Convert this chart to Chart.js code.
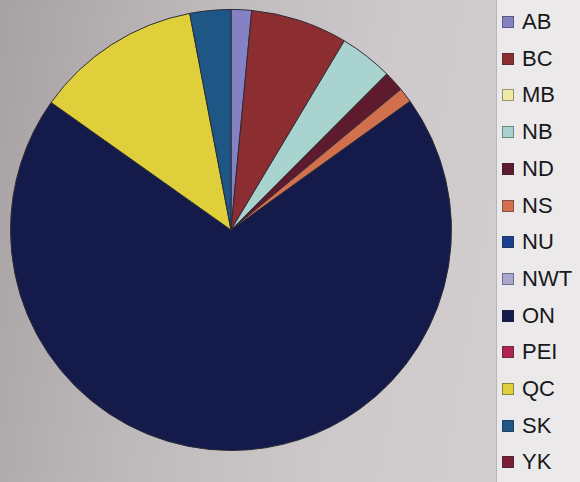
<!DOCTYPE html>
<html>
<head>
<meta charset="utf-8">
<script src="https://cdn.jsdelivr.net/npm/chart.js@4"></script>
<style>
  html, body { margin: 0; padding: 0; }
  body {
    width: 580px; height: 482px; overflow: hidden; position: relative;
    background: linear-gradient(100deg, #a7a1a3 0%, #bdb8b9 30%, #cdc9ca 60%, #d5d1d2 100%);
  }
  #wrap { position: absolute; left: 0; top: 0; width: 462px; height: 482px; }
  #legend {
    position: absolute; left: 496px; top: -2px; width: 90px; height: 490px;
    background: #ebe9ea; border: 1px solid #b9b6b8; box-sizing: border-box;
    font-family: "Liberation Sans", Arial, sans-serif; font-size: 22px; color: #18181a;
  }
  #legend .item { position: absolute; left: 5px; height: 24px; line-height: 24px; white-space: nowrap; }
  #legend .box {
    display: inline-block; width: 10px; height: 10px; margin-right: 8px;
    border: 1px solid rgba(40,40,50,0.45); vertical-align: 1px;
  }
</style>
</head>
<body>
<div id="wrap"><canvas id="provincias"></canvas></div>
<div id="legend"></div>
<script>
// provincias / territorios y su parte del total (%)
var provincias = ["AB", "BC", "MB", "NB", "ND", "NS", "NU", "NWT", "ON", "PEI", "QC", "SK", "YK"];
var porcentaje = [1.5, 7.1, 0, 3.9, 1.5, 1.1, 0, 0, 69.8, 0, 12.2, 3.0, 0];
var colores = ["#8482c4", "#8b2d31", "#efe9a6", "#a9d3cf", "#5e1b2e", "#d2704e", "#1d3f8f",
               "#aaa8d0", "#141a4a", "#b0254f", "#dfcf3b", "#1e5686", "#7b1d36"];

var ctx = document.getElementById("provincias");
var grafica = new Chart(ctx, {
    type: 'pie',
    data: {
        labels: provincias,
        datasets: [{
            data: porcentaje,
            backgroundColor: colores,
            borderColor: "#2c2b36",
            borderWidth: 1
        }]
    },
    options: {
        responsive: true,
        maintainAspectRatio: false,
        animation: false,
        layout: { padding: { left: 10, right: 10, top: 9, bottom: 31 } },
        plugins: {
            legend: { display: false },
            tooltip: { enabled: false }
        }
    }
});

// leyenda a la derecha
var leyenda = document.getElementById("legend");
for (var i = 0; i < provincias.length; i++) {
    var item = document.createElement("div");
    item.className = "item";
    item.style.top = (11 + i * 36.7) + "px";
    item.innerHTML = '<span class="box" style="background:' + colores[i] + '"></span>' + provincias[i];
    leyenda.appendChild(item);
}
</script>
</body>
</html>
